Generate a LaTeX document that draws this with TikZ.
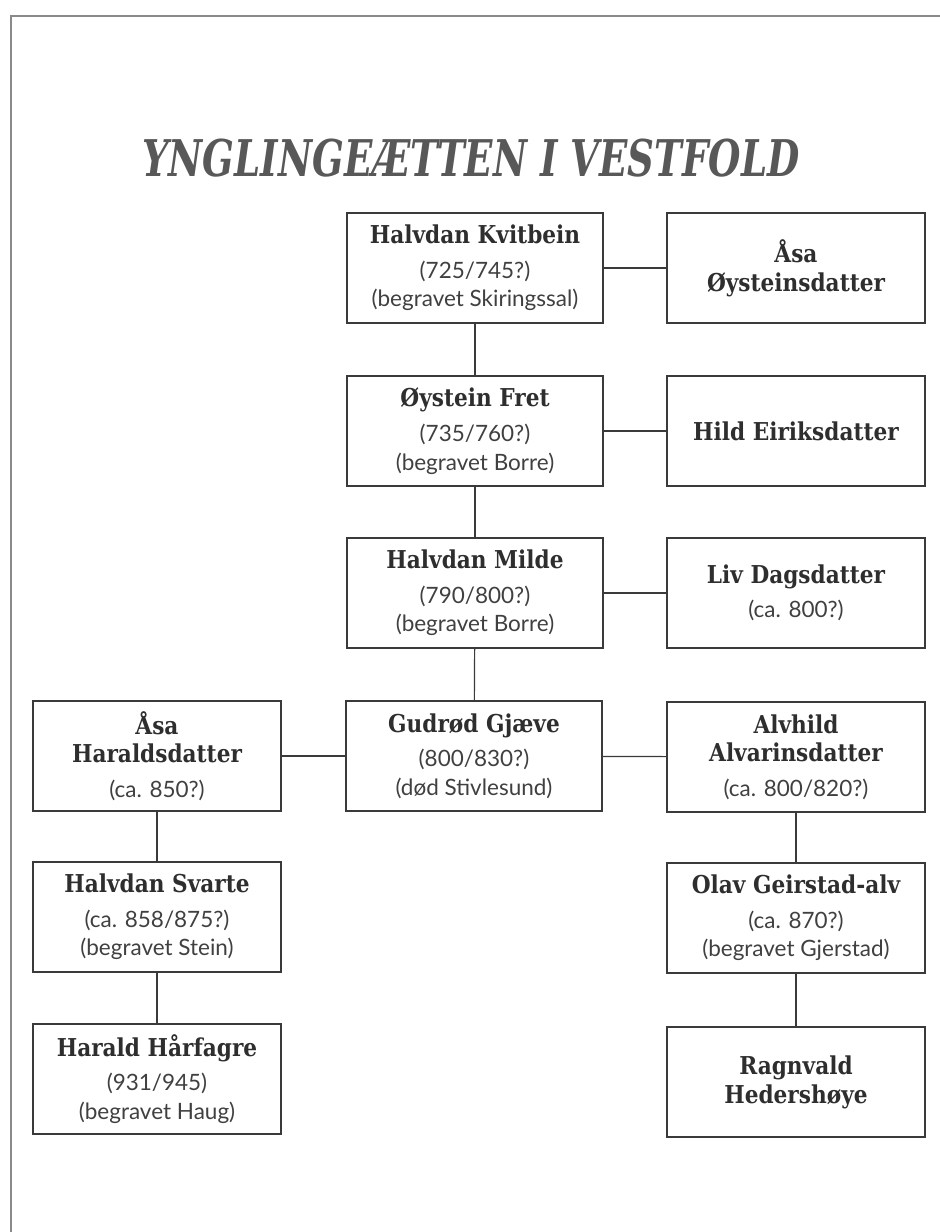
\documentclass[tikz,border=0pt]{standalone}
\usepackage{fontspec}
\usetikzlibrary{positioning}
\newfontfamily\titlefont[FakeStretch=0.735]{DejaVu Serif}
\newfontfamily\namefont[FakeStretch=0.88]{DejaVu Serif}
\newfontfamily\datefont{Lato}
\definecolor{inkgray}{HTML}{2E2E2E}
\definecolor{dategray}{HTML}{404040}
\definecolor{boxgray}{HTML}{3A3A3A}
\definecolor{framegray}{HTML}{8A8A8A}
\newcommand{\pname}[1]{{\color{inkgray}\namefont\bfseries\fontsize{17.5}{23}\selectfont #1}}

\begin{document}
\begin{tikzpicture}[
            x=0.025cm, y=-0.025cm,
            person/.style={draw=boxgray, line width=1.4pt, minimum height=2.75cm, align=center, inner sep=2pt,
              text=dategray, font=\datefont\fontsize{16}{20.5}\selectfont},
            leftcol/.style={person, minimum width=6.2cm},
            midcol/.style={person, minimum width=6.375cm},
            rightcol/.style={person, minimum width=6.425cm},
            link/.style={draw=boxgray, line width=0.85pt}
        ]
          \useasboundingbox (0,0) rectangle (940,1232);
          % page frame
          \draw[framegray, line width=1pt] (11,1232) -- (11,16) -- (940,16);
          \node[text=inkgray!80] (title) at (471,158) {\titlefont\bfseries\itshape\fontsize{36}{40}\selectfont YNGLINGEÆTTEN I VESTFOLD};
          % the line
          \node[midcol] (kvitbein) at (475,268) {\pname{Halvdan Kvitbein}\\[4pt] (725/745?)\\ (begravet Skiringssal)};
          \node[midcol] (fret) at (475,431) {\pname{Øystein Fret}\\[4pt] (735/760?)\\ (begravet Borre)};
          \node[midcol] (milde) at (475,593) {\pname{Halvdan Milde}\\[4pt] (790/800?)\\ (begravet Borre)};
          \node[midcol] (gudrod) at (474,756) {\pname{Gudrød Gjæve}\\[4pt] (800/830?)\\ (død Stivlesund)};
          % wives
          \node[rightcol] (asaoy) at (796,268) {\pname{Åsa}\\ \pname{Øysteinsdatter}};
          \node[rightcol] (hild) at (796,431) {\pname{Hild Eiriksdatter}};
          \node[rightcol] (liv) at (796,593) {\pname{Liv Dagsdatter}\\[4pt] (ca. 800?)};
          \node[rightcol] (alvhild) at (796,757) {\pname{Alvhild}\\ \pname{Alvarinsdatter}\\[4pt] (ca. 800/820?)};
          \node[leftcol] (asahar) at (157,756) {\pname{Åsa}\\ \pname{Haraldsdatter}\\[4pt] (ca. 850?)};
          % sons
          \node[leftcol] (svarte) at (157,917) {\pname{Halvdan Svarte}\\[4pt] (ca. 858/875?)\\ (begravet Stein)};
          \node[leftcol] (harald) at (157,1079) {\pname{Harald Hårfagre}\\[4pt] (931/945)\\ (begravet Haug)};
          \node[rightcol] (olav) at (796,918) {\pname{Olav Geirstad-alv}\\[4pt] (ca. 870?)\\ (begravet Gjerstad)};
          \node[rightcol] (ragnvald) at (796,1082) {\pname{Ragnvald}\\ \pname{Hedershøye}};
          % connectors
          \draw[link] (kvitbein) -- (asaoy);
          \draw[link] (fret) -- (hild);
          \draw[link] (milde) -- (liv);
          \draw[link] (gudrod) -- (asahar);
          \draw[link] (gudrod) -- (alvhild);
          \draw[link] (kvitbein) -- (fret);
          \draw[link] (fret) -- (milde);
          \draw[link] (milde) -- (gudrod);
          \draw[link] (asahar) -- (svarte);
          \draw[link] (svarte) -- (harald);
          \draw[link] (alvhild) -- (olav);
          \draw[link] (olav) -- (ragnvald);
        \end{tikzpicture}
\end{document}
